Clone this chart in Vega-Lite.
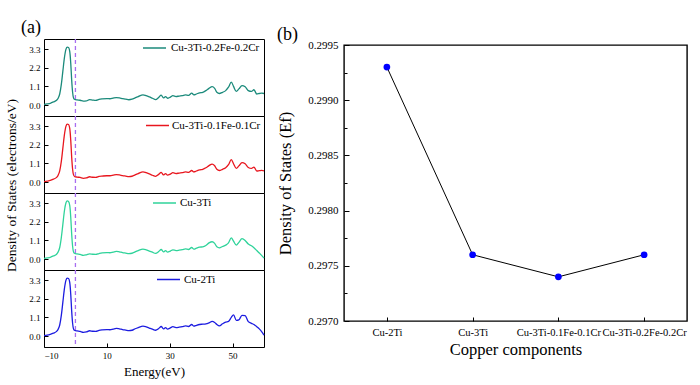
{
  "$schema": "https://vega.github.io/schema/vega-lite/v6.json",
  "background": "white",
  "padding": {"left": 4, "top": 18, "right": 4, "bottom": 4},
  "config": {
    "font": "Liberation Serif",
    "view": {"stroke": "black", "strokeWidth": 1},
    "axis": {"labelFont": "Liberation Serif", "titleFont": "Liberation Serif", "labelColor": "black", "titleColor": "black", "tickColor": "black", "domain": false, "grid": false, "titleFontWeight": "normal"},
    "legend": {"labelFont": "Liberation Serif", "labelColor": "black"},
    "title": {"font": "Liberation Serif", "fontWeight": "normal", "color": "black"}
  },
  "datasets": {
    "dos": [
      {"series":"Cu-3Ti-0.2Fe-0.2Cr","energy":-10,"dos":0.03},{"series":"Cu-3Ti-0.2Fe-0.2Cr","energy":-9,"dos":0.06},{"series":"Cu-3Ti-0.2Fe-0.2Cr","energy":-8,"dos":0.1},{"series":"Cu-3Ti-0.2Fe-0.2Cr","energy":-7,"dos":0.18},{"series":"Cu-3Ti-0.2Fe-0.2Cr","energy":-6,"dos":0.28},{"series":"Cu-3Ti-0.2Fe-0.2Cr","energy":-5.5,"dos":0.4},{"series":"Cu-3Ti-0.2Fe-0.2Cr","energy":-5,"dos":0.65},{"series":"Cu-3Ti-0.2Fe-0.2Cr","energy":-4.5,"dos":1.2},{"series":"Cu-3Ti-0.2Fe-0.2Cr","energy":-4,"dos":2.0},{"series":"Cu-3Ti-0.2Fe-0.2Cr","energy":-3.5,"dos":2.8},{"series":"Cu-3Ti-0.2Fe-0.2Cr","energy":-3,"dos":3.3},{"series":"Cu-3Ti-0.2Fe-0.2Cr","energy":-2.6,"dos":3.42},{"series":"Cu-3Ti-0.2Fe-0.2Cr","energy":-2.2,"dos":3.4},{"series":"Cu-3Ti-0.2Fe-0.2Cr","energy":-1.8,"dos":3.15},{"series":"Cu-3Ti-0.2Fe-0.2Cr","energy":-1.5,"dos":2.5},{"series":"Cu-3Ti-0.2Fe-0.2Cr","energy":-1.2,"dos":1.5},{"series":"Cu-3Ti-0.2Fe-0.2Cr","energy":-0.9,"dos":0.75},{"series":"Cu-3Ti-0.2Fe-0.2Cr","energy":-0.6,"dos":0.42},{"series":"Cu-3Ti-0.2Fe-0.2Cr","energy":-0.2,"dos":0.33},{"series":"Cu-3Ti-0.2Fe-0.2Cr","energy":0.5,"dos":0.3},{"series":"Cu-3Ti-0.2Fe-0.2Cr","energy":1.5,"dos":0.28},{"series":"Cu-3Ti-0.2Fe-0.2Cr","energy":2.5,"dos":0.23},{"series":"Cu-3Ti-0.2Fe-0.2Cr","energy":3.5,"dos":0.24},{"series":"Cu-3Ti-0.2Fe-0.2Cr","energy":4.5,"dos":0.32},{"series":"Cu-3Ti-0.2Fe-0.2Cr","energy":5.5,"dos":0.29},{"series":"Cu-3Ti-0.2Fe-0.2Cr","energy":6.5,"dos":0.27},{"series":"Cu-3Ti-0.2Fe-0.2Cr","energy":7.5,"dos":0.33},{"series":"Cu-3Ti-0.2Fe-0.2Cr","energy":8.5,"dos":0.36},{"series":"Cu-3Ti-0.2Fe-0.2Cr","energy":10,"dos":0.38},{"series":"Cu-3Ti-0.2Fe-0.2Cr","energy":11,"dos":0.37},{"series":"Cu-3Ti-0.2Fe-0.2Cr","energy":12,"dos":0.41},{"series":"Cu-3Ti-0.2Fe-0.2Cr","energy":13,"dos":0.44},{"series":"Cu-3Ti-0.2Fe-0.2Cr","energy":14,"dos":0.42},{"series":"Cu-3Ti-0.2Fe-0.2Cr","energy":15,"dos":0.38},{"series":"Cu-3Ti-0.2Fe-0.2Cr","energy":16,"dos":0.35},{"series":"Cu-3Ti-0.2Fe-0.2Cr","energy":17,"dos":0.31},{"series":"Cu-3Ti-0.2Fe-0.2Cr","energy":18,"dos":0.34},{"series":"Cu-3Ti-0.2Fe-0.2Cr","energy":19,"dos":0.42},{"series":"Cu-3Ti-0.2Fe-0.2Cr","energy":20,"dos":0.5},{"series":"Cu-3Ti-0.2Fe-0.2Cr","energy":21.5,"dos":0.6},{"series":"Cu-3Ti-0.2Fe-0.2Cr","energy":22.5,"dos":0.55},{"series":"Cu-3Ti-0.2Fe-0.2Cr","energy":23.5,"dos":0.48},{"series":"Cu-3Ti-0.2Fe-0.2Cr","energy":24.5,"dos":0.4},{"series":"Cu-3Ti-0.2Fe-0.2Cr","energy":25.5,"dos":0.32},{"series":"Cu-3Ti-0.2Fe-0.2Cr","energy":26.5,"dos":0.45},{"series":"Cu-3Ti-0.2Fe-0.2Cr","energy":27.3,"dos":0.58},{"series":"Cu-3Ti-0.2Fe-0.2Cr","energy":28,"dos":0.42},{"series":"Cu-3Ti-0.2Fe-0.2Cr","energy":28.7,"dos":0.5},{"series":"Cu-3Ti-0.2Fe-0.2Cr","energy":29.3,"dos":0.4},{"series":"Cu-3Ti-0.2Fe-0.2Cr","energy":30.2,"dos":0.47},{"series":"Cu-3Ti-0.2Fe-0.2Cr","energy":31,"dos":0.55},{"series":"Cu-3Ti-0.2Fe-0.2Cr","energy":32,"dos":0.5},{"series":"Cu-3Ti-0.2Fe-0.2Cr","energy":33,"dos":0.53},{"series":"Cu-3Ti-0.2Fe-0.2Cr","energy":34,"dos":0.55},{"series":"Cu-3Ti-0.2Fe-0.2Cr","energy":35,"dos":0.6},{"series":"Cu-3Ti-0.2Fe-0.2Cr","energy":36,"dos":0.57},{"series":"Cu-3Ti-0.2Fe-0.2Cr","energy":37,"dos":0.7},{"series":"Cu-3Ti-0.2Fe-0.2Cr","energy":37.7,"dos":0.6},{"series":"Cu-3Ti-0.2Fe-0.2Cr","energy":38.5,"dos":0.65},{"series":"Cu-3Ti-0.2Fe-0.2Cr","energy":39.5,"dos":0.72},{"series":"Cu-3Ti-0.2Fe-0.2Cr","energy":40.5,"dos":0.75},{"series":"Cu-3Ti-0.2Fe-0.2Cr","energy":41.5,"dos":0.85},{"series":"Cu-3Ti-0.2Fe-0.2Cr","energy":42.5,"dos":0.98},{"series":"Cu-3Ti-0.2Fe-0.2Cr","energy":43.5,"dos":1.08},{"series":"Cu-3Ti-0.2Fe-0.2Cr","energy":44.3,"dos":0.98},{"series":"Cu-3Ti-0.2Fe-0.2Cr","energy":45,"dos":0.75},{"series":"Cu-3Ti-0.2Fe-0.2Cr","energy":45.8,"dos":0.68},{"series":"Cu-3Ti-0.2Fe-0.2Cr","energy":46.8,"dos":0.75},{"series":"Cu-3Ti-0.2Fe-0.2Cr","energy":47.8,"dos":0.85},{"series":"Cu-3Ti-0.2Fe-0.2Cr","energy":48.7,"dos":1.05},{"series":"Cu-3Ti-0.2Fe-0.2Cr","energy":49.6,"dos":1.35},{"series":"Cu-3Ti-0.2Fe-0.2Cr","energy":50.3,"dos":1.1},{"series":"Cu-3Ti-0.2Fe-0.2Cr","energy":51.2,"dos":0.8},{"series":"Cu-3Ti-0.2Fe-0.2Cr","energy":52,"dos":0.95},{"series":"Cu-3Ti-0.2Fe-0.2Cr","energy":53,"dos":1.15},{"series":"Cu-3Ti-0.2Fe-0.2Cr","energy":54,"dos":1.08},{"series":"Cu-3Ti-0.2Fe-0.2Cr","energy":55,"dos":0.85},{"series":"Cu-3Ti-0.2Fe-0.2Cr","energy":56,"dos":0.8},{"series":"Cu-3Ti-0.2Fe-0.2Cr","energy":56.8,"dos":0.9},{"series":"Cu-3Ti-0.2Fe-0.2Cr","energy":57.7,"dos":0.65},{"series":"Cu-3Ti-0.2Fe-0.2Cr","energy":58.5,"dos":0.68},{"series":"Cu-3Ti-0.2Fe-0.2Cr","energy":59.3,"dos":0.7},{"series":"Cu-3Ti-0.2Fe-0.2Cr","energy":60,"dos":0.68},
      {"series":"Cu-3Ti-0.1Fe-0.1Cr","energy":-10,"dos":0.02},{"series":"Cu-3Ti-0.1Fe-0.1Cr","energy":-9,"dos":0.05},{"series":"Cu-3Ti-0.1Fe-0.1Cr","energy":-8,"dos":0.09},{"series":"Cu-3Ti-0.1Fe-0.1Cr","energy":-7,"dos":0.17},{"series":"Cu-3Ti-0.1Fe-0.1Cr","energy":-6,"dos":0.27},{"series":"Cu-3Ti-0.1Fe-0.1Cr","energy":-5.5,"dos":0.4},{"series":"Cu-3Ti-0.1Fe-0.1Cr","energy":-5,"dos":0.66},{"series":"Cu-3Ti-0.1Fe-0.1Cr","energy":-4.5,"dos":1.2},{"series":"Cu-3Ti-0.1Fe-0.1Cr","energy":-4,"dos":2.0},{"series":"Cu-3Ti-0.1Fe-0.1Cr","energy":-3.5,"dos":2.8},{"series":"Cu-3Ti-0.1Fe-0.1Cr","energy":-3,"dos":3.3},{"series":"Cu-3Ti-0.1Fe-0.1Cr","energy":-2.6,"dos":3.42},{"series":"Cu-3Ti-0.1Fe-0.1Cr","energy":-2.2,"dos":3.4},{"series":"Cu-3Ti-0.1Fe-0.1Cr","energy":-1.8,"dos":3.15},{"series":"Cu-3Ti-0.1Fe-0.1Cr","energy":-1.5,"dos":2.5},{"series":"Cu-3Ti-0.1Fe-0.1Cr","energy":-1.2,"dos":1.5},{"series":"Cu-3Ti-0.1Fe-0.1Cr","energy":-0.9,"dos":0.75},{"series":"Cu-3Ti-0.1Fe-0.1Cr","energy":-0.6,"dos":0.42},{"series":"Cu-3Ti-0.1Fe-0.1Cr","energy":-0.2,"dos":0.32},{"series":"Cu-3Ti-0.1Fe-0.1Cr","energy":0.5,"dos":0.29},{"series":"Cu-3Ti-0.1Fe-0.1Cr","energy":1.5,"dos":0.27},{"series":"Cu-3Ti-0.1Fe-0.1Cr","energy":2.5,"dos":0.22},{"series":"Cu-3Ti-0.1Fe-0.1Cr","energy":3.5,"dos":0.24},{"series":"Cu-3Ti-0.1Fe-0.1Cr","energy":4.5,"dos":0.31},{"series":"Cu-3Ti-0.1Fe-0.1Cr","energy":5.5,"dos":0.28},{"series":"Cu-3Ti-0.1Fe-0.1Cr","energy":6.5,"dos":0.27},{"series":"Cu-3Ti-0.1Fe-0.1Cr","energy":7.5,"dos":0.33},{"series":"Cu-3Ti-0.1Fe-0.1Cr","energy":8.5,"dos":0.35},{"series":"Cu-3Ti-0.1Fe-0.1Cr","energy":10,"dos":0.37},{"series":"Cu-3Ti-0.1Fe-0.1Cr","energy":11,"dos":0.37},{"series":"Cu-3Ti-0.1Fe-0.1Cr","energy":12,"dos":0.4},{"series":"Cu-3Ti-0.1Fe-0.1Cr","energy":13,"dos":0.44},{"series":"Cu-3Ti-0.1Fe-0.1Cr","energy":14,"dos":0.42},{"series":"Cu-3Ti-0.1Fe-0.1Cr","energy":15,"dos":0.38},{"series":"Cu-3Ti-0.1Fe-0.1Cr","energy":16,"dos":0.35},{"series":"Cu-3Ti-0.1Fe-0.1Cr","energy":17,"dos":0.32},{"series":"Cu-3Ti-0.1Fe-0.1Cr","energy":18,"dos":0.34},{"series":"Cu-3Ti-0.1Fe-0.1Cr","energy":19,"dos":0.42},{"series":"Cu-3Ti-0.1Fe-0.1Cr","energy":20,"dos":0.5},{"series":"Cu-3Ti-0.1Fe-0.1Cr","energy":21.5,"dos":0.6},{"series":"Cu-3Ti-0.1Fe-0.1Cr","energy":22.5,"dos":0.55},{"series":"Cu-3Ti-0.1Fe-0.1Cr","energy":23.5,"dos":0.48},{"series":"Cu-3Ti-0.1Fe-0.1Cr","energy":24.5,"dos":0.4},{"series":"Cu-3Ti-0.1Fe-0.1Cr","energy":25.5,"dos":0.33},{"series":"Cu-3Ti-0.1Fe-0.1Cr","energy":26.5,"dos":0.45},{"series":"Cu-3Ti-0.1Fe-0.1Cr","energy":27.3,"dos":0.57},{"series":"Cu-3Ti-0.1Fe-0.1Cr","energy":28,"dos":0.42},{"series":"Cu-3Ti-0.1Fe-0.1Cr","energy":28.7,"dos":0.5},{"series":"Cu-3Ti-0.1Fe-0.1Cr","energy":29.3,"dos":0.41},{"series":"Cu-3Ti-0.1Fe-0.1Cr","energy":30.2,"dos":0.47},{"series":"Cu-3Ti-0.1Fe-0.1Cr","energy":31,"dos":0.55},{"series":"Cu-3Ti-0.1Fe-0.1Cr","energy":32,"dos":0.5},{"series":"Cu-3Ti-0.1Fe-0.1Cr","energy":33,"dos":0.53},{"series":"Cu-3Ti-0.1Fe-0.1Cr","energy":34,"dos":0.55},{"series":"Cu-3Ti-0.1Fe-0.1Cr","energy":35,"dos":0.6},{"series":"Cu-3Ti-0.1Fe-0.1Cr","energy":36,"dos":0.57},{"series":"Cu-3Ti-0.1Fe-0.1Cr","energy":37,"dos":0.68},{"series":"Cu-3Ti-0.1Fe-0.1Cr","energy":37.7,"dos":0.6},{"series":"Cu-3Ti-0.1Fe-0.1Cr","energy":38.5,"dos":0.65},{"series":"Cu-3Ti-0.1Fe-0.1Cr","energy":39.5,"dos":0.71},{"series":"Cu-3Ti-0.1Fe-0.1Cr","energy":40.5,"dos":0.75},{"series":"Cu-3Ti-0.1Fe-0.1Cr","energy":41.5,"dos":0.84},{"series":"Cu-3Ti-0.1Fe-0.1Cr","energy":42.5,"dos":0.97},{"series":"Cu-3Ti-0.1Fe-0.1Cr","energy":43.5,"dos":1.06},{"series":"Cu-3Ti-0.1Fe-0.1Cr","energy":44.3,"dos":0.96},{"series":"Cu-3Ti-0.1Fe-0.1Cr","energy":45,"dos":0.75},{"series":"Cu-3Ti-0.1Fe-0.1Cr","energy":45.8,"dos":0.68},{"series":"Cu-3Ti-0.1Fe-0.1Cr","energy":46.8,"dos":0.75},{"series":"Cu-3Ti-0.1Fe-0.1Cr","energy":47.8,"dos":0.84},{"series":"Cu-3Ti-0.1Fe-0.1Cr","energy":48.7,"dos":1.02},{"series":"Cu-3Ti-0.1Fe-0.1Cr","energy":49.6,"dos":1.32},{"series":"Cu-3Ti-0.1Fe-0.1Cr","energy":50.3,"dos":1.08},{"series":"Cu-3Ti-0.1Fe-0.1Cr","energy":51.2,"dos":0.8},{"series":"Cu-3Ti-0.1Fe-0.1Cr","energy":52,"dos":0.95},{"series":"Cu-3Ti-0.1Fe-0.1Cr","energy":53,"dos":1.15},{"series":"Cu-3Ti-0.1Fe-0.1Cr","energy":54,"dos":1.08},{"series":"Cu-3Ti-0.1Fe-0.1Cr","energy":55,"dos":0.86},{"series":"Cu-3Ti-0.1Fe-0.1Cr","energy":56,"dos":0.8},{"series":"Cu-3Ti-0.1Fe-0.1Cr","energy":56.8,"dos":0.88},{"series":"Cu-3Ti-0.1Fe-0.1Cr","energy":57.7,"dos":0.65},{"series":"Cu-3Ti-0.1Fe-0.1Cr","energy":58.5,"dos":0.67},{"series":"Cu-3Ti-0.1Fe-0.1Cr","energy":59.3,"dos":0.69},{"series":"Cu-3Ti-0.1Fe-0.1Cr","energy":60,"dos":0.66},
      {"series":"Cu-3Ti","energy":-10,"dos":0.03},{"series":"Cu-3Ti","energy":-9,"dos":0.06},{"series":"Cu-3Ti","energy":-8,"dos":0.1},{"series":"Cu-3Ti","energy":-7,"dos":0.18},{"series":"Cu-3Ti","energy":-6,"dos":0.28},{"series":"Cu-3Ti","energy":-5.5,"dos":0.42},{"series":"Cu-3Ti","energy":-5,"dos":0.68},{"series":"Cu-3Ti","energy":-4.5,"dos":1.25},{"series":"Cu-3Ti","energy":-4,"dos":2.05},{"series":"Cu-3Ti","energy":-3.5,"dos":2.85},{"series":"Cu-3Ti","energy":-3,"dos":3.32},{"series":"Cu-3Ti","energy":-2.6,"dos":3.43},{"series":"Cu-3Ti","energy":-2.2,"dos":3.4},{"series":"Cu-3Ti","energy":-1.8,"dos":3.15},{"series":"Cu-3Ti","energy":-1.5,"dos":2.5},{"series":"Cu-3Ti","energy":-1.2,"dos":1.5},{"series":"Cu-3Ti","energy":-0.9,"dos":0.75},{"series":"Cu-3Ti","energy":-0.6,"dos":0.42},{"series":"Cu-3Ti","energy":-0.2,"dos":0.33},{"series":"Cu-3Ti","energy":0.5,"dos":0.3},{"series":"Cu-3Ti","energy":1.5,"dos":0.27},{"series":"Cu-3Ti","energy":2.5,"dos":0.22},{"series":"Cu-3Ti","energy":3.5,"dos":0.25},{"series":"Cu-3Ti","energy":4.5,"dos":0.3},{"series":"Cu-3Ti","energy":5.5,"dos":0.28},{"series":"Cu-3Ti","energy":6.5,"dos":0.27},{"series":"Cu-3Ti","energy":7.5,"dos":0.32},{"series":"Cu-3Ti","energy":8.5,"dos":0.36},{"series":"Cu-3Ti","energy":10,"dos":0.38},{"series":"Cu-3Ti","energy":11,"dos":0.37},{"series":"Cu-3Ti","energy":12,"dos":0.41},{"series":"Cu-3Ti","energy":13,"dos":0.45},{"series":"Cu-3Ti","energy":14,"dos":0.42},{"series":"Cu-3Ti","energy":15,"dos":0.38},{"series":"Cu-3Ti","energy":16,"dos":0.35},{"series":"Cu-3Ti","energy":17,"dos":0.32},{"series":"Cu-3Ti","energy":18,"dos":0.34},{"series":"Cu-3Ti","energy":19,"dos":0.42},{"series":"Cu-3Ti","energy":20,"dos":0.5},{"series":"Cu-3Ti","energy":21.5,"dos":0.58},{"series":"Cu-3Ti","energy":22.5,"dos":0.54},{"series":"Cu-3Ti","energy":23.5,"dos":0.47},{"series":"Cu-3Ti","energy":24.5,"dos":0.4},{"series":"Cu-3Ti","energy":25.5,"dos":0.33},{"series":"Cu-3Ti","energy":26.5,"dos":0.44},{"series":"Cu-3Ti","energy":27.3,"dos":0.56},{"series":"Cu-3Ti","energy":28,"dos":0.42},{"series":"Cu-3Ti","energy":28.7,"dos":0.5},{"series":"Cu-3Ti","energy":29.3,"dos":0.41},{"series":"Cu-3Ti","energy":30.2,"dos":0.47},{"series":"Cu-3Ti","energy":31,"dos":0.54},{"series":"Cu-3Ti","energy":32,"dos":0.5},{"series":"Cu-3Ti","energy":33,"dos":0.52},{"series":"Cu-3Ti","energy":34,"dos":0.55},{"series":"Cu-3Ti","energy":35,"dos":0.6},{"series":"Cu-3Ti","energy":36,"dos":0.56},{"series":"Cu-3Ti","energy":37,"dos":0.68},{"series":"Cu-3Ti","energy":37.7,"dos":0.58},{"series":"Cu-3Ti","energy":38.5,"dos":0.64},{"series":"Cu-3Ti","energy":39.5,"dos":0.7},{"series":"Cu-3Ti","energy":40.5,"dos":0.72},{"series":"Cu-3Ti","energy":41.5,"dos":0.8},{"series":"Cu-3Ti","energy":42.5,"dos":0.95},{"series":"Cu-3Ti","energy":43.5,"dos":1.02},{"series":"Cu-3Ti","energy":44.3,"dos":0.92},{"series":"Cu-3Ti","energy":45,"dos":0.72},{"series":"Cu-3Ti","energy":45.8,"dos":0.66},{"series":"Cu-3Ti","energy":46.8,"dos":0.74},{"series":"Cu-3Ti","energy":47.8,"dos":0.82},{"series":"Cu-3Ti","energy":48.7,"dos":0.95},{"series":"Cu-3Ti","energy":49.6,"dos":1.25},{"series":"Cu-3Ti","energy":50.3,"dos":1.05},{"series":"Cu-3Ti","energy":51.2,"dos":0.82},{"series":"Cu-3Ti","energy":52,"dos":0.98},{"series":"Cu-3Ti","energy":53,"dos":1.2},{"series":"Cu-3Ti","energy":54,"dos":1.1},{"series":"Cu-3Ti","energy":55,"dos":0.88},{"series":"Cu-3Ti","energy":56,"dos":0.78},{"series":"Cu-3Ti","energy":56.8,"dos":0.66},{"series":"Cu-3Ti","energy":57.7,"dos":0.5},{"series":"Cu-3Ti","energy":58.5,"dos":0.35},{"series":"Cu-3Ti","energy":59.3,"dos":0.2},{"series":"Cu-3Ti","energy":60,"dos":0.05},
      {"series":"Cu-2Ti","energy":-10,"dos":0.02},{"series":"Cu-2Ti","energy":-9,"dos":0.05},{"series":"Cu-2Ti","energy":-8,"dos":0.1},{"series":"Cu-2Ti","energy":-7,"dos":0.17},{"series":"Cu-2Ti","energy":-6,"dos":0.27},{"series":"Cu-2Ti","energy":-5.5,"dos":0.4},{"series":"Cu-2Ti","energy":-5,"dos":0.65},{"series":"Cu-2Ti","energy":-4.5,"dos":1.2},{"series":"Cu-2Ti","energy":-4,"dos":2.0},{"series":"Cu-2Ti","energy":-3.5,"dos":2.8},{"series":"Cu-2Ti","energy":-3,"dos":3.3},{"series":"Cu-2Ti","energy":-2.6,"dos":3.42},{"series":"Cu-2Ti","energy":-2.2,"dos":3.4},{"series":"Cu-2Ti","energy":-1.8,"dos":3.15},{"series":"Cu-2Ti","energy":-1.5,"dos":2.5},{"series":"Cu-2Ti","energy":-1.2,"dos":1.5},{"series":"Cu-2Ti","energy":-0.9,"dos":0.75},{"series":"Cu-2Ti","energy":-0.6,"dos":0.42},{"series":"Cu-2Ti","energy":-0.2,"dos":0.33},{"series":"Cu-2Ti","energy":0.5,"dos":0.3},{"series":"Cu-2Ti","energy":1.5,"dos":0.27},{"series":"Cu-2Ti","energy":2.5,"dos":0.22},{"series":"Cu-2Ti","energy":3.5,"dos":0.24},{"series":"Cu-2Ti","energy":4.5,"dos":0.31},{"series":"Cu-2Ti","energy":5.5,"dos":0.28},{"series":"Cu-2Ti","energy":6.5,"dos":0.27},{"series":"Cu-2Ti","energy":7.5,"dos":0.33},{"series":"Cu-2Ti","energy":8.5,"dos":0.36},{"series":"Cu-2Ti","energy":10,"dos":0.38},{"series":"Cu-2Ti","energy":11,"dos":0.37},{"series":"Cu-2Ti","energy":12,"dos":0.41},{"series":"Cu-2Ti","energy":13,"dos":0.45},{"series":"Cu-2Ti","energy":14,"dos":0.42},{"series":"Cu-2Ti","energy":15,"dos":0.38},{"series":"Cu-2Ti","energy":16,"dos":0.35},{"series":"Cu-2Ti","energy":17,"dos":0.32},{"series":"Cu-2Ti","energy":18,"dos":0.34},{"series":"Cu-2Ti","energy":19,"dos":0.43},{"series":"Cu-2Ti","energy":20,"dos":0.5},{"series":"Cu-2Ti","energy":21.5,"dos":0.58},{"series":"Cu-2Ti","energy":22.5,"dos":0.54},{"series":"Cu-2Ti","energy":23.5,"dos":0.47},{"series":"Cu-2Ti","energy":24.5,"dos":0.4},{"series":"Cu-2Ti","energy":25.5,"dos":0.34},{"series":"Cu-2Ti","energy":26.5,"dos":0.44},{"series":"Cu-2Ti","energy":27.3,"dos":0.56},{"series":"Cu-2Ti","energy":28,"dos":0.42},{"series":"Cu-2Ti","energy":28.7,"dos":0.5},{"series":"Cu-2Ti","energy":29.3,"dos":0.41},{"series":"Cu-2Ti","energy":30.2,"dos":0.48},{"series":"Cu-2Ti","energy":31,"dos":0.55},{"series":"Cu-2Ti","energy":32,"dos":0.5},{"series":"Cu-2Ti","energy":33,"dos":0.52},{"series":"Cu-2Ti","energy":34,"dos":0.55},{"series":"Cu-2Ti","energy":35,"dos":0.6},{"series":"Cu-2Ti","energy":36,"dos":0.56},{"series":"Cu-2Ti","energy":37,"dos":0.68},{"series":"Cu-2Ti","energy":37.7,"dos":0.58},{"series":"Cu-2Ti","energy":38.5,"dos":0.63},{"series":"Cu-2Ti","energy":39.5,"dos":0.68},{"series":"Cu-2Ti","energy":40.5,"dos":0.7},{"series":"Cu-2Ti","energy":41.5,"dos":0.72},{"series":"Cu-2Ti","energy":42.5,"dos":0.78},{"series":"Cu-2Ti","energy":43.5,"dos":0.86},{"series":"Cu-2Ti","energy":44.3,"dos":0.8},{"series":"Cu-2Ti","energy":45,"dos":0.68},{"series":"Cu-2Ti","energy":45.8,"dos":0.6},{"series":"Cu-2Ti","energy":46.8,"dos":0.72},{"series":"Cu-2Ti","energy":47.8,"dos":0.82},{"series":"Cu-2Ti","energy":48.7,"dos":0.86},{"series":"Cu-2Ti","energy":49.6,"dos":1.1},{"series":"Cu-2Ti","energy":50.3,"dos":1.25},{"series":"Cu-2Ti","energy":51.2,"dos":0.92},{"series":"Cu-2Ti","energy":52,"dos":0.95},{"series":"Cu-2Ti","energy":53,"dos":1.22},{"series":"Cu-2Ti","energy":54,"dos":1.2},{"series":"Cu-2Ti","energy":55,"dos":0.85},{"series":"Cu-2Ti","energy":56,"dos":0.75},{"series":"Cu-2Ti","energy":56.8,"dos":0.68},{"series":"Cu-2Ti","energy":57.7,"dos":0.55},{"series":"Cu-2Ti","energy":58.5,"dos":0.42},{"series":"Cu-2Ti","energy":59.3,"dos":0.25},{"series":"Cu-2Ti","energy":60,"dos":0.05}
    ],
    "fermi": [{"level": 0}],
    "ef": [
      {"component": "Cu-2Ti", "dos_ef": 0.2993},
      {"component": "Cu-3Ti", "dos_ef": 0.2976},
      {"component": "Cu-3Ti-0.1Fe-0.1Cr", "dos_ef": 0.2974},
      {"component": "Cu-3Ti-0.2Fe-0.2Cr", "dos_ef": 0.2976}
    ]
  },
  "hconcat": [
    {
      "data": {"name": "dos"},
      "spacing": 0,
      "bounds": "flush",
      "title": {"text": "Density of States (electrons/eV)", "orient": "left", "anchor": "middle", "fontSize": 13.5, "offset": 2, "dx": 13},
      "resolve": {"scale": {"color": "independent", "x": "independent", "y": "independent"}, "legend": {"color": "independent"}},
      "vconcat": [
        {
          "width": 220, "height": 77,
          "title": {"text": "(a)", "anchor": "start", "frame": "group", "dx": -23, "offset": -1.5, "fontSize": 18},
          "transform": [{"filter": "datum.series === 'Cu-3Ti-0.2Fe-0.2Cr'"}],
          "layer": [
            {"mark": {"type": "line", "strokeWidth": 1.3, "interpolate": "monotone"},
             "encoding": {
               "x": {"field": "energy", "type": "quantitative", "scale": {"domain": [-10, 60], "nice": false}, "axis": null},
               "y": {"field": "dos", "type": "quantitative", "scale": {"domain": [-0.65, 3.9], "nice": false, "zero": false}, "axis": {"values": [0, 1.1, 2.2, 3.3], "format": ".1f", "labelFontSize": 9, "tickSize": -4, "labelPadding": 8, "title": null}},
               "color": {"field": "series", "type": "nominal", "scale": {"domain": ["Cu-3Ti-0.2Fe-0.2Cr"], "range": ["#1b8a7b"]}, "legend": {"title": null, "orient": "none", "legendX": 98, "legendY": -3.5, "symbolType": "stroke", "symbolSize": 529, "symbolStrokeWidth": 1.5, "labelFontSize": 11, "labelOffset": 4, "padding": 0}}
             }},
            {"data": {"name": "fermi"}, "mark": {"type": "rule", "color": "#a86ef0", "strokeDash": [4, 3], "strokeWidth": 1.3},
             "encoding": {"x": {"field": "level", "type": "quantitative"}}}
          ]
        },
        {
          "width": 220, "height": 77,
          "transform": [{"filter": "datum.series === 'Cu-3Ti-0.1Fe-0.1Cr'"}],
          "layer": [
            {"mark": {"type": "line", "strokeWidth": 1.3, "interpolate": "monotone"},
             "encoding": {
               "x": {"field": "energy", "type": "quantitative", "scale": {"domain": [-10, 60], "nice": false}, "axis": null},
               "y": {"field": "dos", "type": "quantitative", "scale": {"domain": [-0.65, 3.9], "nice": false, "zero": false}, "axis": {"values": [0, 1.1, 2.2, 3.3], "format": ".1f", "labelFontSize": 9, "tickSize": -4, "labelPadding": 8, "title": null}},
               "color": {"field": "series", "type": "nominal", "scale": {"domain": ["Cu-3Ti-0.1Fe-0.1Cr"], "range": ["#e8161e"]}, "legend": {"title": null, "orient": "none", "legendX": 101, "legendY": -3, "symbolType": "stroke", "symbolSize": 529, "symbolStrokeWidth": 1.5, "labelFontSize": 11, "labelOffset": 2, "padding": 0}}
             }},
            {"data": {"name": "fermi"}, "mark": {"type": "rule", "color": "#a86ef0", "strokeDash": [4, 3], "strokeWidth": 1.3},
             "encoding": {"x": {"field": "level", "type": "quantitative"}}}
          ]
        },
        {
          "width": 220, "height": 77,
          "transform": [{"filter": "datum.series === 'Cu-3Ti'"}],
          "layer": [
            {"mark": {"type": "line", "strokeWidth": 1.3, "interpolate": "monotone"},
             "encoding": {
               "x": {"field": "energy", "type": "quantitative", "scale": {"domain": [-10, 60], "nice": false}, "axis": null},
               "y": {"field": "dos", "type": "quantitative", "scale": {"domain": [-0.65, 3.9], "nice": false, "zero": false}, "axis": {"values": [0, 1.1, 2.2, 3.3], "format": ".1f", "labelFontSize": 9, "tickSize": -4, "labelPadding": 8, "title": null}},
               "color": {"field": "series", "type": "nominal", "scale": {"domain": ["Cu-3Ti"], "range": ["#2fd39a"]}, "legend": {"title": null, "orient": "none", "legendX": 108, "legendY": -2.5, "symbolType": "stroke", "symbolSize": 529, "symbolStrokeWidth": 1.5, "labelFontSize": 11, "labelOffset": 3, "padding": 0}}
             }},
            {"data": {"name": "fermi"}, "mark": {"type": "rule", "color": "#a86ef0", "strokeDash": [4, 3], "strokeWidth": 1.3},
             "encoding": {"x": {"field": "level", "type": "quantitative"}}}
          ]
        },
        {
          "width": 220, "height": 77,
          "transform": [{"filter": "datum.series === 'Cu-2Ti'"}],
          "layer": [
            {"mark": {"type": "line", "strokeWidth": 1.3, "interpolate": "monotone"},
             "encoding": {
               "x": {"field": "energy", "type": "quantitative", "scale": {"domain": [-10, 60], "nice": false}, "axis": {"values": [-10, 0, 10, 20, 30, 40, 50, 60], "labelFontSize": 9, "tickSize": -4, "labelPadding": 8, "title": "Energy(eV)", "titleFontSize": 13, "titlePadding": 5}},
               "y": {"field": "dos", "type": "quantitative", "scale": {"domain": [-0.65, 3.9], "nice": false, "zero": false}, "axis": {"values": [0, 1.1, 2.2, 3.3], "format": ".1f", "labelFontSize": 9, "tickSize": -4, "labelPadding": 8, "title": null}},
               "color": {"field": "series", "type": "nominal", "scale": {"domain": ["Cu-2Ti"], "range": ["#1c1ce0"]}, "legend": {"title": null, "orient": "none", "legendX": 112, "legendY": -3, "symbolType": "stroke", "symbolSize": 529, "symbolStrokeWidth": 1.5, "labelFontSize": 11, "labelOffset": 3, "padding": 0}}
             }},
            {"data": {"name": "fermi"}, "mark": {"type": "rule", "color": "#a86ef0", "strokeDash": [4, 3], "strokeWidth": 1.3},
             "encoding": {"x": {"field": "level", "type": "quantitative"}}}
          ]
        }
      ]
    },
    {
      "spacing": 0,
      "bounds": "flush",
      "vconcat": [
        {
          "width": 343, "height": 6,
          "title": {"text": "(b)", "anchor": "start", "frame": "group", "dx": -67, "offset": -5, "fontSize": 18},
          "data": {"values": []},
          "mark": {"type": "point", "opacity": 0},
          "encoding": {},
          "view": {"stroke": null}
        },
        {
          "width": 343, "height": 276,
          "view": {"stroke": "black", "strokeWidth": 1.4},
          "data": {"name": "ef"},
          "encoding": {
            "x": {"field": "component", "type": "ordinal", "sort": null, "scale": {"type": "point", "padding": 0.5},
                  "axis": {"labelAngle": 0, "labelOverlap": false, "labelFontSize": 10.5, "tickSize": -4, "labelPadding": 10, "title": "Copper components", "titleFontSize": 16.5, "titlePadding": 4}},
            "y": {"field": "dos_ef", "type": "quantitative", "scale": {"domain": [0.297, 0.2995], "nice": false, "zero": false},
                  "axis": {"values": [0.297, 0.29725, 0.2975, 0.29775, 0.298, 0.29825, 0.2985, 0.29875, 0.299, 0.29925, 0.2995],
                           "labelExpr": "abs(datum.value*2000 - round(datum.value*2000)) < 0.01 ? format(datum.value, '.4f') : ''",
                           "tickSize": {"condition": {"test": "abs(datum.value*2000 - round(datum.value*2000)) > 0.01", "value": -3}, "value": -5},
                           "labelFontSize": 11, "labelPadding": 11, "title": "Density of States (Ef)", "titleFontSize": 16.5, "titlePadding": 14}}
          },
          "layer": [
            {"mark": {"type": "line", "color": "black", "strokeWidth": 1}},
            {"mark": {"type": "point", "filled": true, "color": "#0000ff", "size": 45, "opacity": 1}}
          ]
        }
      ]
    }
  ],
  "spacing": 9
}
